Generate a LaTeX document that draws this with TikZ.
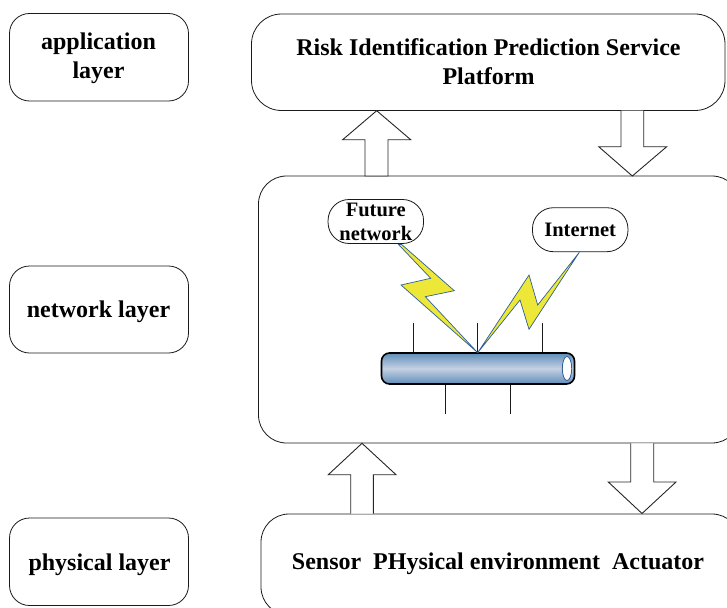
\documentclass[tikz,border=0pt]{standalone}
\usepackage{fontspec}
\setmainfont{Liberation Serif}
\definecolor{edge}{HTML}{1A1A1A}
\definecolor{boltedge}{HTML}{2F5F9A}
\definecolor{boltfill}{HTML}{EDE838}
\definecolor{pipedark}{HTML}{5F8DB8}
\definecolor{pipelight}{HTML}{C5D0E3}
\tikzset{
  layerbox/.style={draw=edge,line width=0.8pt,rounded corners=20pt,fill=white},
  blockarrow/.style={draw=black!85,line width=0.9pt,fill=white,line join=miter},
  cloudbox/.style={draw=edge,line width=0.8pt,rounded corners=21pt,fill=white,font=\bfseries\fontsize{20.5}{24}\selectfont,align=center,inner sep=0pt},
  bolt/.style={draw=boltedge,line width=0.7pt,fill=boltfill,line join=miter},
  stub/.style={draw=edge,line width=0.8pt},
  lbl/.style={font=\bfseries\fontsize{24}{29}\selectfont,align=center,inner sep=0pt}
}
\newcommand{\boxat}[6]{\path[layerbox,rounded corners=#6] (#2,#3) rectangle (#4,#5); \coordinate (#1) at ({(#2+#4)/2},{(#3+#5)/2});}
\begin{document}
\begin{tikzpicture}[x=1pt,y=-1pt]
\useasboundingbox (0,0) rectangle (727,607);
\clip (0,0) rectangle (727,607);
% layer boxes
\boxat{applayer}{9.5}{13.5}{188.5}{101}{20pt}
\boxat{netlayer}{9.5}{266}{188.5}{353}{20pt}
\boxat{phylayer}{9.5}{518}{188.5}{605.5}{20pt}
\boxat{riskbox}{251.5}{14}{725}{110.5}{30pt}
\boxat{netbox}{258.5}{176}{740}{443}{28pt}
\boxat{physbox}{261}{514}{740}{615}{28pt}
\node[lbl] at (98.5,58.5) {application\\layer};
\node[lbl] at (98.5,312) {network layer};
\node[lbl] at (99.5,565) {physical layer};
\node[lbl] at (488.5,62) {Risk Identification Prediction Service\\Platform};
\node[lbl] at (498,564) {Sensor\ \ PHysical environment\ \ Actuator};
% block arrows
\draw[blockarrow] (365,176) -- (365,139.7) -- (342.7,139.7) -- (376.7,110.7) -- (410.7,139.7) -- (388,139.7) -- (388,176) -- cycle;
\draw[blockarrow] (621,110.7) -- (621,146.7) -- (598.7,146.7) -- (632.3,176) -- (666.7,146.7) -- (643.7,146.7) -- (643.7,110.7);
\draw[blockarrow] (350.7,513.7) -- (350.7,474.7) -- (328.3,474.7) -- (362,443.3) -- (396,474.7) -- (373.3,474.7) -- (373.3,513.7);
\draw[blockarrow] (630.7,443.3) -- (630.7,482) -- (608.3,482) -- (642,513.5) -- (676,482) -- (653.7,482) -- (653.7,443.3);
% stubs
\draw[stub] (413.3,322.5) -- (413.3,353);
\draw[stub] (477.7,322.5) -- (477.7,353);
\draw[stub] (542.3,322.5) -- (542.3,353);
\draw[stub] (445.7,384) -- (445.7,414);
\draw[stub] (510,384) -- (510,414);
% pipe
\draw[line width=1.6pt,draw=black,rounded corners=8pt,top color=pipedark,bottom color=pipedark,middle color=pipelight] (381.5,353) rectangle (574.5,384);
\draw[draw=boltedge,line width=0.8pt,fill=white] (567,368.5) ellipse [x radius=4.7,y radius=12];
% bolts
\draw[bolt] (398.5,244.5) -- (430.7,278.3) -- (401,285) -- (477.7,352.7) -- (425.3,296.7) -- (454.3,290.7) -- (401.7,244.5) -- cycle;
\draw[bolt] (477.7,352.7) -- (529,275) -- (537.7,305) -- (579.3,252.3) -- (529,329.3) -- (520,300) -- cycle;
% network nodes
\node[cloudbox,minimum width=95.5pt,minimum height=44pt] (future) at (375.8,221.5) {Future\\network};
\node[cloudbox,minimum width=95.5pt,minimum height=44pt] (internet) at (580.2,229.7) {Internet};
\end{tikzpicture}
\end{document}
